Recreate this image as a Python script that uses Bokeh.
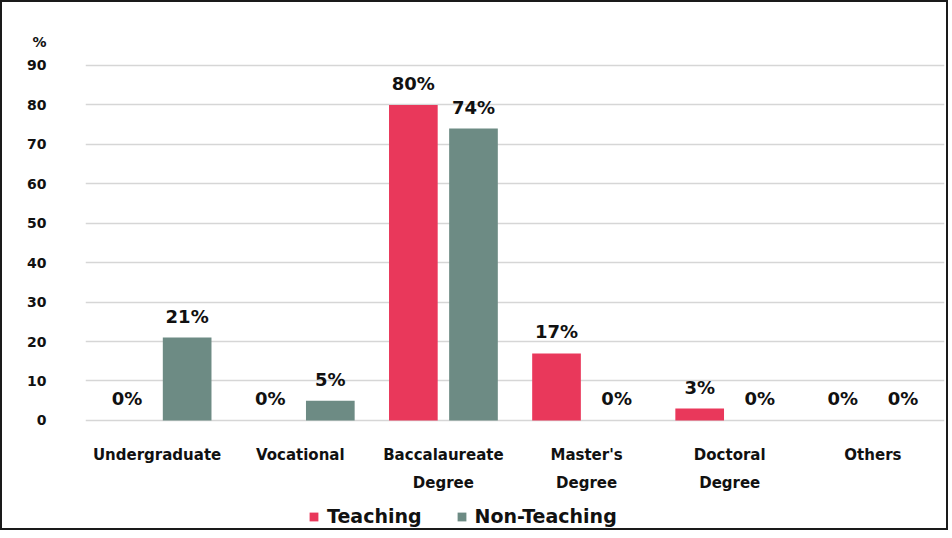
from bokeh.plotting import figure
from bokeh.layouts import column
from bokeh.core.properties import value
from bokeh.models import (ColumnDataSource, FactorRange, LabelSet, Legend, LegendItem,
                          FixedTicker, CustomJSTickFormatter)
from bokeh.transform import dodge
from bokeh.embed import file_html
from bokeh.resources import INLINE

categories = ["Undergraduate", "Vocational", "Baccalaureate\nDegree", "Master's\nDegree", "Doctoral\nDegree", "Others"]
teaching = [0, 0, 80, 17, 3, 0]
non_teaching = [21, 5, 74, 0, 0, 0]
y_ticks = [0, 10, 20, 30, 40, 50, 60, 70, 80, 90]
unit_label = "%"
UNIT_POS = 96  # where the "%" unit marker sits on the value axis

RED = "#E9385B"
GREEN = "#6D8B84"
FONT = "DejaVu Sans"
INK = "#111111"

lines = [c.split("\n") for c in categories]
src = ColumnDataSource(dict(
    cat=categories,
    t=teaching,
    n=non_teaching,
    tl=[f"{v}%" for v in teaching],
    nl=[f"{v}%" for v in non_teaching],
    zero=[0] * len(categories),
    l1=[ln[0] for ln in lines],
    l2=[ln[1] if len(ln) > 1 else "" for ln in lines],
))

p = figure(x_range=FactorRange(*categories), y_range=(-27.4, 97.6),
           x_axis_location=None,
           width=944, height=526, output_backend="svg", toolbar_location=None,
           min_border_left=83, min_border_right=2, min_border_top=33, min_border_bottom=0)
p.outline_line_color = None
for g in p.xgrid:
    g.visible = False

r1 = p.vbar(x=dodge("cat", -0.21, range=p.x_range), top="t", width=0.34, source=src,
            color=RED, line_color=None)
r2 = p.vbar(x=dodge("cat", 0.21, range=p.x_range), top="n", width=0.34, source=src,
            color=GREEN, line_color=None)

for col, lab, off in (("t", "tl", -0.21), ("n", "nl", 0.21)):
    p.add_layout(LabelSet(x=dodge("cat", off, range=p.x_range), y=col, text=lab, source=src,
                          text_align="center", text_baseline="bottom", y_offset=11,
                          text_font=value(FONT), text_font_style="bold", text_font_size="18px",
                          text_color=INK))

# category labels (two lines)
for lab, off in (("l1", -35), ("l2", -63)):
    p.add_layout(LabelSet(x="cat", y="zero", text=lab, source=src,
                          text_align="center", text_baseline="middle", y_offset=off,
                          text_font=value(FONT), text_font_style="bold", text_font_size="15px",
                          text_color=INK))

p.ygrid.ticker = FixedTicker(ticks=y_ticks)
p.ygrid.grid_line_color = "#d6d6d6"
p.ygrid.grid_line_width = 1.5

p.yaxis.ticker = FixedTicker(ticks=y_ticks + [UNIT_POS])
p.yaxis.formatter = CustomJSTickFormatter(
    args=dict(unit=unit_label, top=y_ticks[-1]),
    code="return tick > top ? unit : tick.toFixed(0);")
p.yaxis.axis_line_color = None
p.yaxis.major_tick_line_color = None
p.yaxis.minor_tick_line_color = None
p.yaxis.major_label_standoff = 33
p.yaxis.major_label_text_font = FONT
p.yaxis.major_label_text_font_style = "bold"
p.yaxis.major_label_text_font_size = "14px"
p.yaxis.major_label_text_color = INK

legend = Legend(items=[LegendItem(label="Teaching", renderers=[r1]),
                       LegendItem(label="Non-Teaching", renderers=[r2])],
                orientation="horizontal", location=(223, 1),
                label_text_font=FONT, label_text_font_style="bold",
                label_text_font_size="19px", label_text_color=INK,
                glyph_width=11, glyph_height=11, spacing=34, label_standoff=8,
                border_line_color=None, background_fill_alpha=0, margin=0, padding=2)
p.add_layout(legend, "center")

layout = column(p, styles={"border": "2px solid #1a1a1a"})
open("out.html", "w").write(file_html(layout, INLINE))
